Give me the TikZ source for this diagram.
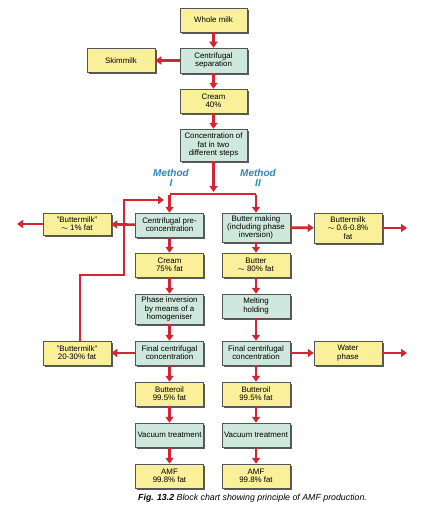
\documentclass[tikz,border=0pt]{standalone}
\usepackage{fontspec}
\setmainfont{Liberation Sans}
\usetikzlibrary{arrows.meta,shadows}
\definecolor{boxyellow}{HTML}{FAF09A}
\definecolor{boxteal}{HTML}{CFE8DE}
\definecolor{boxline}{HTML}{555555}
\definecolor{shadowgray}{HTML}{5A5A5A}
\definecolor{flowred}{HTML}{D42530}
\definecolor{methodblue}{HTML}{2A86C8}
\tikzset{
  basebox/.style={draw=boxline, line width=0.5pt, align=center, inner sep=1pt,
    minimum width=68pt, minimum height=24pt,
    font=\fontsize{7.9}{8.3}\selectfont,
    drop shadow={shadow xshift=1.6pt, shadow yshift=-1.6pt, fill=shadowgray, opacity=1}},
  ybox/.style={basebox, fill=boxyellow},
  tbox/.style={basebox, fill=boxteal},
  arr/.style={draw=flowred, line width=2.6pt, line join=miter,
    -{Triangle[length=6pt,width=8pt]}},
  redline/.style={draw=flowred, line width=2.6pt, line join=miter},
  methodlbl/.style={text=methodblue, align=center, inner sep=0pt,
    font=\fontsize{10}{10}\selectfont\bfseries\itshape},
  captionlbl/.style={anchor=west, inner sep=0pt, font=\fontsize{8.8}{9}\selectfont\itshape}
}
\begin{document}
\begin{tikzpicture}[x=1pt,y=-1pt]
\useasboundingbox[fill=white] (0,0) rectangle (424,511);
% top column
\node[ybox, minimum width=67pt] (wm) at (213.5,20) {Whole milk};
\node[tbox, minimum width=67pt, minimum height=25pt] (cs) at (213.5,60.5) {Centrifugal\\separation};
\node[ybox] (skim) at (121,60.5) {Skimmilk};
\node[ybox, minimum width=67pt] (cr40) at (213.5,101) {Cream\\40\%};
\node[tbox, minimum width=67pt, minimum height=32pt] (conc) at (213.5,145) {Concentration of\\fat in two\\different steps};
% method labels
\node[methodlbl] (m1) at (171,178) {Method\\I};
\node[methodlbl] (m2) at (258,178) {Method\\II};
% row: first step
\node[tbox] (cpc) at (169.5,225) {Centrifugal pre-\\concentration};
\node[tbox, minimum height=29pt] (bm) at (256,227.5) {Butter making\\(including phase\\inversion)};
\node[ybox, minimum height=22pt] (bm1) at (77,224) {"Buttermilk"\\$\sim$ 1\% fat};
\node[ybox, minimum height=30pt] (bm06) at (348,228) {Buttermilk\\$\sim$ 0.6-0.8\%\\fat};
% second step
\node[ybox] (cr75) at (169.5,265) {Cream\\75\% fat};
\node[ybox] (b80) at (256,265) {Butter\\$\sim$ 80\% fat};
\node[tbox, minimum height=30pt] (pi) at (169.5,309) {Phase inversion\\by means of a\\homogeniser};
\node[tbox] (mh) at (256,306) {Melting\\holding};
\node[tbox] (fcl) at (169.5,353) {Final centrifugal\\concentration};
\node[tbox] (fcr) at (256,353) {Final centrifugal\\concentration};
\node[ybox] (bm20) at (77,353) {"Buttermilk"\\20-30\% fat};
\node[ybox] (wp) at (348,353) {Water\\phase};
\node[ybox] (bol) at (169.5,394) {Butteroil\\99.5\% fat};
\node[ybox] (bor) at (256,394) {Butteroil\\99.5\% fat};
\node[tbox] (vtl) at (169.5,435) {Vacuum treatment};
\node[tbox] (vtr) at (256,435) {Vacuum treatment};
\node[ybox] (amfl) at (169.5,476) {AMF\\99.8\% fat};
\node[ybox] (amfr) at (256,476) {AMF\\99.8\% fat};
% caption
\node[captionlbl] (cap) at (138,498) {{\bfseries Fig. 13.2} Block chart showing principle of AMF production.};
% coordinates
\coordinate (brL) at (169.5,194);
\coordinate (brR) at (256,194);
\coordinate (brIn) at (213.5,192);
\coordinate (out1) at (17,224);
\coordinate (out2) at (407,228);
\coordinate (out3) at (407,353);
\coordinate (fbA) at (80,275);
\coordinate (fbB) at (124,275);
\coordinate (fbC) at (124,200);
\coordinate (fbEnd) at (164,200);
% arrows top
\draw[arr] (wm) -- (cs);
\draw[arr] (cs) -- (skim);
\draw[arr] (cs) -- (cr40);
\draw[arr] (cr40) -- (conc);
\draw[arr] (conc) -- (brIn);
\draw[redline] (brL) -- (brR);
\draw[arr] ([yshift=-1.3pt]brL) -- (cpc);
\draw[arr] ([yshift=-1.3pt]brR) -- (bm);
% side arrows
\draw[arr] (cpc) -- (bm1);
\draw[arr] (bm1) -- (out1);
\draw[arr] (bm) -- (bm06);
\draw[arr] (bm06) -- (out2);
\draw[arr] (fcl) -- (bm20);
\draw[arr] (fcr) -- (wp);
\draw[arr] (wp) -- (out3);
% feedback
\draw[arr] (bm20.north -| fbA) -- (fbA) -- (fbB) -- (fbC) -- (fbEnd);
% columns
\draw[arr] (cpc) -- (cr75);
\draw[arr] (cr75) -- (pi);
\draw[arr] (pi) -- (fcl);
\draw[arr] (fcl) -- (bol);
\draw[arr] (bol) -- (vtl);
\draw[arr] (vtl) -- (amfl);
\draw[arr] (bm) -- (b80);
\draw[arr] (b80) -- (mh);
\draw[arr] (mh) -- (fcr);
\draw[arr] (fcr) -- (bor);
\draw[arr] (bor) -- (vtr);
\draw[arr] (vtr) -- (amfr);
\end{tikzpicture}
\end{document}
